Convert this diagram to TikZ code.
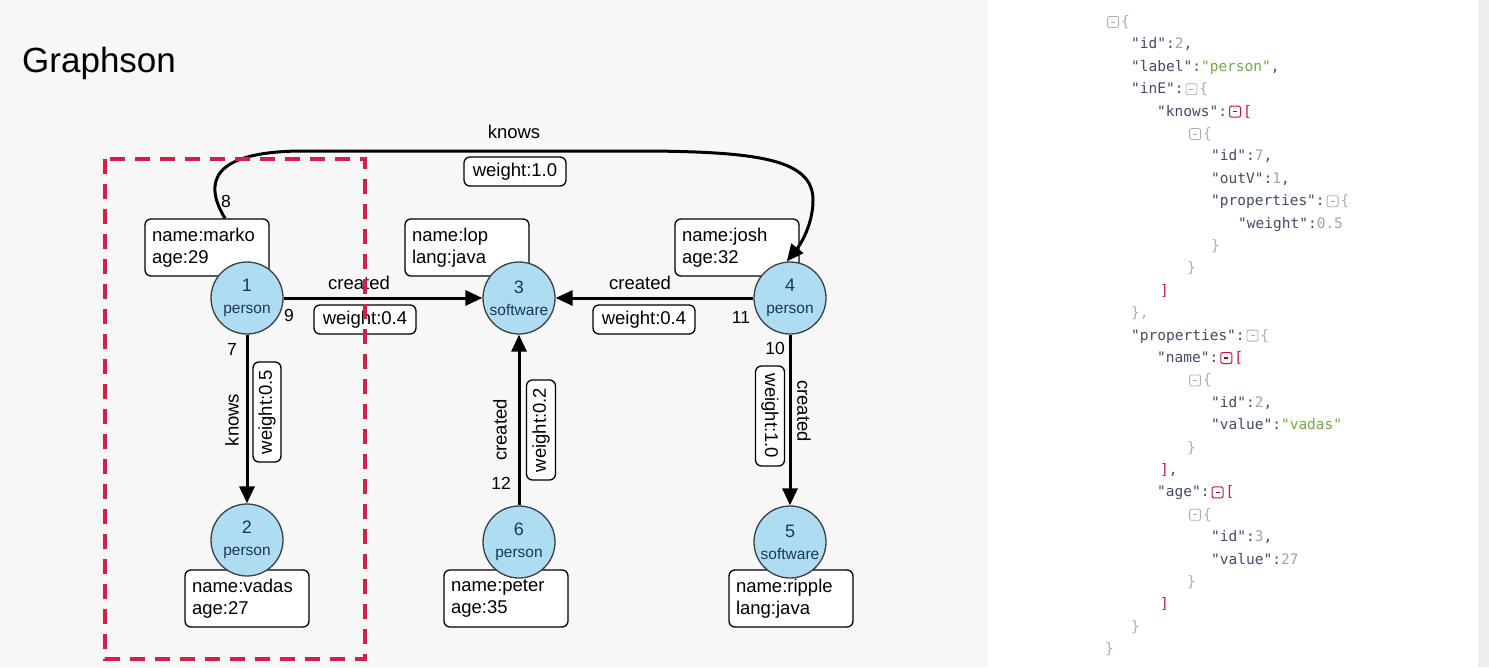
\documentclass[tikz,border=0pt]{standalone}
\usepackage{fontspec}
\setmainfont{Liberation Sans}
\newfontfamily\jsonfont{DejaVu Sans Mono}
\usetikzlibrary{arrows.meta}

\definecolor{panelbg}{HTML}{F7F7F8}
\definecolor{edgebg}{HTML}{EFEFF0}
\definecolor{vfill}{HTML}{AEDDF2}
\definecolor{vline}{HTML}{3A3F45}
\definecolor{vtext}{HTML}{1E3556}
\definecolor{frame}{HTML}{D3204A}
\definecolor{jkey}{HTML}{424C66}
\definecolor{jnum}{HTML}{9FA3AA}
\definecolor{jstr}{HTML}{74A948}
\definecolor{jpunc}{HTML}{ABAFB6}
\definecolor{jred}{HTML}{C8163A}
\definecolor{jicon}{HTML}{A9AEB6}

% JSON tree helpers
\newcommand\jk[1]{\textcolor{jkey}{"#1":}}
\newcommand\jn[1]{\textcolor{jnum}{#1}}
\newcommand\js[1]{\textcolor{jstr}{"#1"}}
\newcommand\jp[1]{\textcolor{jpunc}{#1}}
\newcommand\jr[1]{\textcolor{jred}{#1}}
\newcommand\jc{\textcolor{jkey}{,}}
\newcommand\tgl{\hspace{2pt}\tikz[baseline=0pt]{\draw[jicon,line width=0.8pt,rounded corners=2pt] (0pt,-1pt) rectangle (11pt,10pt);\draw[jicon,line width=1pt] (3.5pt,4.5pt) -- (7.5pt,4.5pt);}\hspace{2pt}}
\newcommand\tgr{\hspace{2pt}\tikz[baseline=0pt]{\draw[jred,line width=1pt,rounded corners=2pt] (0pt,-1pt) rectangle (11pt,10pt);\draw[jred!70!black,line width=1.2pt] (3.5pt,4.5pt) -- (7.5pt,4.5pt);}\hspace{2pt}}
% vertex caption: id above, label below
\newcommand\vcap[2]{{\fontsize{18}{22}\selectfont #1}\\#2}

\begin{document}
\begin{tikzpicture}[x=1pt,y=-1pt,
  vertex/.style={circle,draw=vline,line width=1.3pt,fill=vfill,minimum size=72pt,inner sep=0pt,align=center,text=vtext,font=\fontsize{15.5}{22}\selectfont},
  propbox/.style={draw,line width=1.3pt,rounded corners=6pt,fill=white,text width=110pt,inner xsep=7pt,inner ysep=0pt,minimum height=57pt,align=left,font=\fontsize{18.5}{22}\selectfont},
  wbox/.style={draw,line width=1.3pt,rounded corners=6pt,fill=white,font=\fontsize{18.5}{22}\selectfont,minimum width=102pt,minimum height=29pt,inner sep=0pt},
  link/.style={line width=3pt,-{Triangle[length=17pt,width=15pt]}},
  elabel/.style={font=\fontsize{18.5}{22}\selectfont,inner sep=0pt},
  enum/.style={font=\fontsize{17.5}{20}\selectfont,inner sep=0pt},
  jline/.style={anchor=base west,inner sep=0pt,font=\jsonfont\fontsize{14.5}{17}\selectfont}]

\useasboundingbox (0,0) rectangle (1489,667);

% panels
\fill[panelbg] (0,0) rectangle (1489,667);
\fill[white] (988,0) rectangle (1478,667);
\fill[edgebg] (1478,0) rectangle (1489,667);

\node[anchor=base west,inner sep=0pt,font=\fontsize{35}{40}\selectfont] (title) at (22,72) {Graphson};

% property boxes
\node[propbox] (marko) at (207,247.5) {name:marko\\age:29};
\node[propbox] (lop) at (467,247.5) {name:lop\\lang:java};
\node[propbox] (josh) at (737,247.5) {name:josh\\age:32};
\node[propbox] (vadas) at (247,598.5) {name:vadas\\age:27};
\node[propbox] (peter) at (506,598.5) {name:peter\\age:35};
\node[propbox] (ripple) at (791,598.5) {name:ripple\\lang:java};

% vertices
\node[vertex] (v1) at (247,298) {\vcap{1}{person}};
\node[vertex] (v3) at (519,298) {\vcap{3}{software}};
\node[vertex] (v4) at (790,298) {\vcap{4}{person}};
\node[vertex] (v2) at (247,540) {\vcap{2}{person}};
\node[vertex] (v6) at (519,542) {\vcap{6}{person}};
\node[vertex] (v5) at (790,542) {\vcap{5}{software}};

% edges
\draw[link] (v1) -- (v3);
\draw[link] (v4) -- (v3);
\draw[link] (v1) -- (v2);
\draw[link] (v6) -- (v3);
\draw[link] (v4) -- (v5);
\draw[link] ([xshift=18pt]marko.north) .. controls (203,182) and (212,152) .. (300,151)
  -- (650,151) .. controls (760,152) and (813,160) .. (813,200)
  .. controls (813,225) and (800,245) .. (v4.95);

% edge labels
\node[elabel] (c13) at (359,283) {created};
\node[wbox] (w13) at (365,319.5) {weight:0.4};
\node[enum] (n9) at (289,315) {9};
\node[elabel] (c43) at (640,283) {created};
\node[wbox] (w43) at (644,319.5) {weight:0.4};
\node[enum] (n11) at (741,317) {11};

\node[enum] (n7) at (232,349) {7};
\node[elabel,rotate=90] (k12) at (232,420) {knows};
\node[wbox,rotate=90,minimum width=100pt,minimum height=28pt] (w12) at (267,412) {weight:0.5};

\node[enum] (n12) at (501,483) {12};
\node[elabel,rotate=90] (c63) at (500,430) {created};
\node[wbox,rotate=90,minimum width=100pt,minimum height=29pt] (w63) at (541,430) {weight:0.2};

\node[enum] (n10) at (775,348) {10};
\node[wbox,rotate=-90,minimum width=100pt,minimum height=29pt] (w45) at (770,416) {weight:1.0};
\node[elabel,rotate=-90] (c45) at (804,411) {created};

\node[enum] (n8) at (226,201) {8};
\node[elabel] (k14) at (514,132) {knows};
\node[wbox] (w14) at (515,171.5) {weight:1.0};

% highlighted vertex 2
\draw[frame,line width=3.5pt,dash pattern=on 15pt off 10pt] (105,159) rectangle (365,659);

% JSON record of vertex 2
\node[jline] (j1)  at (1105,26.5) {\tgl\jp{\{}};
\node[jline] (j2)  at (1131,48.9) {\jk{id}\jn{2}\jc};
\node[jline] (j3)  at (1131,71.3) {\jk{label}\js{person}\jc};
\node[jline] (j4)  at (1131,93.7) {\jk{inE}\tgl\jp{\{}};
\node[jline] (j5)  at (1157,116.1) {\jk{knows}\tgr\jr{[}};
\node[jline] (j6)  at (1187,138.5) {\tgl\jp{\{}};
\node[jline] (j7)  at (1211,160.9) {\jk{id}\jn{7}\jc};
\node[jline] (j8)  at (1211,183.3) {\jk{outV}\jn{1}\jc};
\node[jline] (j9)  at (1211,205.7) {\jk{properties}\tgl\jp{\{}};
\node[jline] (j10) at (1238,228.1) {\jk{weight}\jn{0.5}};
\node[jline] (j11) at (1211,250.5) {\jp{\}}};
\node[jline] (j12) at (1187,272.9) {\jp{\}}};
\node[jline] (j13) at (1160,295.3) {\jr{]}};
\node[jline] (j14) at (1131,317.7) {\jp{\},}};
\node[jline] (j15) at (1131,340.1) {\jk{properties}\tgl\jp{\{}};
\node[jline] (j16) at (1157,362.5) {\jk{name}\tgr\jr{[}};
\node[jline] (j17) at (1187,384.9) {\tgl\jp{\{}};
\node[jline] (j18) at (1211,407.3) {\jk{id}\jn{2}\jc};
\node[jline] (j19) at (1211,429.7) {\jk{value}\js{vadas}};
\node[jline] (j20) at (1187,452.1) {\jp{\}}};
\node[jline] (j21) at (1160,474.5) {\jr{]}\jc};
\node[jline] (j22) at (1157,496.9) {\jk{age}\tgr\jr{[}};
\node[jline] (j23) at (1187,519.3) {\tgl\jp{\{}};
\node[jline] (j24) at (1211,541.7) {\jk{id}\jn{3}\jc};
\node[jline] (j25) at (1211,564.1) {\jk{value}\jn{27}};
\node[jline] (j26) at (1187,586.5) {\jp{\}}};
\node[jline] (j27) at (1160,608.9) {\jr{]}};
\node[jline] (j28) at (1131,631.3) {\jp{\}}};
\node[jline] (j29) at (1105,653.7) {\jp{\}}};
\end{tikzpicture}
\end{document}
